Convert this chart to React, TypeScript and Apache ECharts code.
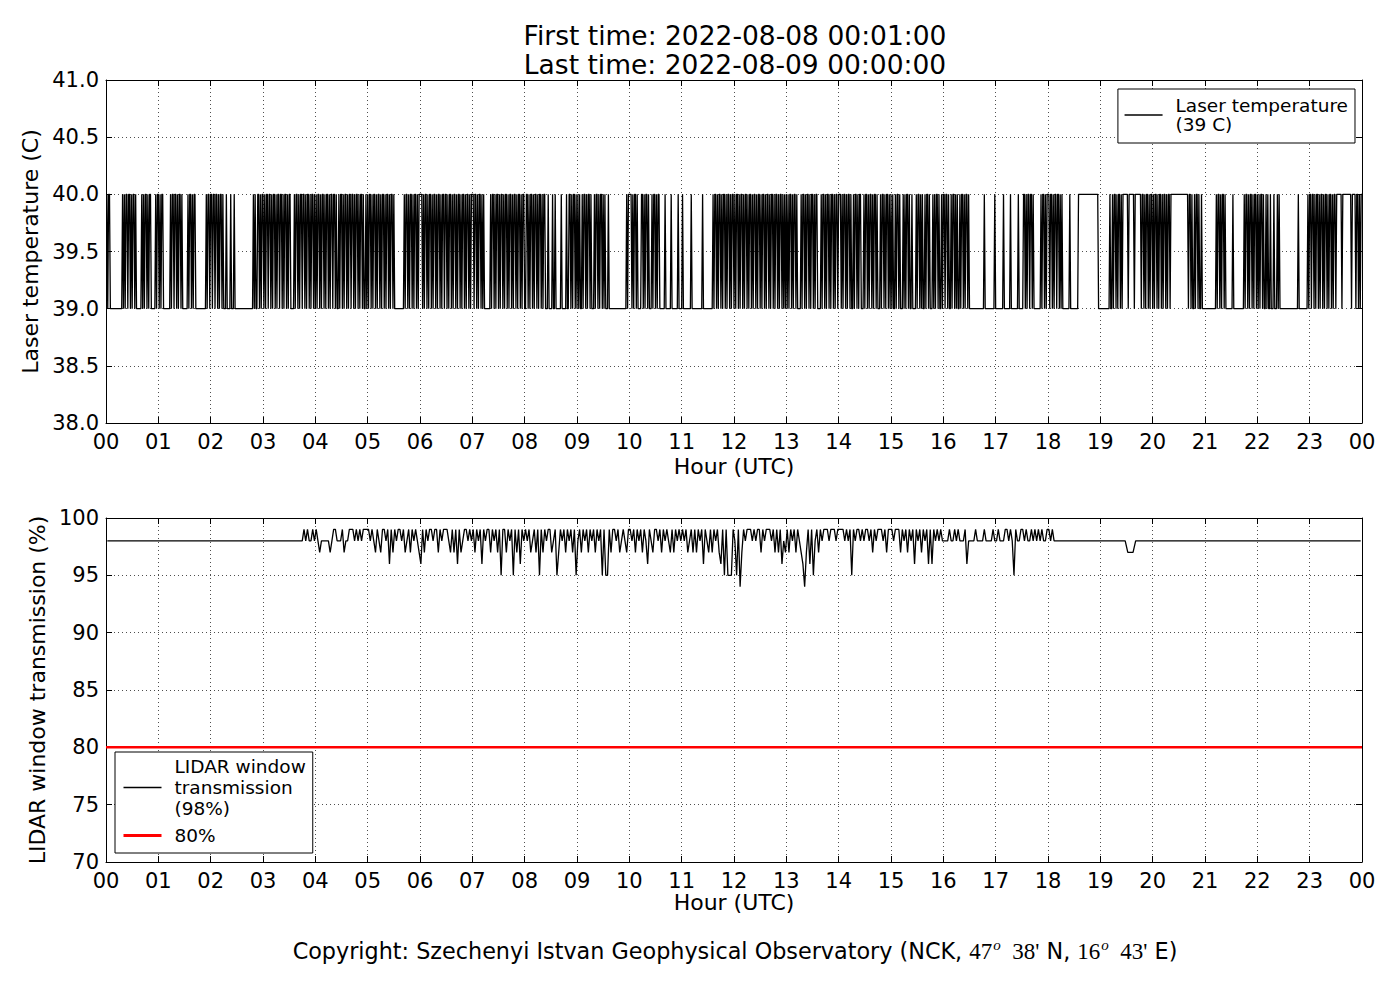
import React, { useEffect, useRef } from "react";
import * as echarts from "echarts";

const TITLE_FIRST = "First time: 2022-08-08 00:01:00";
const TITLE_LAST = "Last time: 2022-08-09 00:00:00";
const X_NAME = "Hour (UTC)";
const HOUR_LABELS = ["00","01","02","03","04","05","06","07","08","09","10","11","12","13","14","15","16","17","18","19","20","21","22","23","00"];
const LASER_NAME = "Laser temperature\n(39 C)";
const LASER_AXIS_NAME = "Laser temperature (C)";
const TRANS_NAME = "LIDAR window\ntransmission\n(98%)";
const TRANS_AXIS_NAME = "LIDAR window transmission (%)";
const THRESH_NAME = "80%";
const THRESHOLD_VALUE = 80;

// Laser temperature, one char per minute of each hour: "0" = 39 C, "1" = 40 C
const LASER_BASE = 39;
const LASER_HOURS = [
  "101100000000000000101011011010110100000010101101011000001011",
  "010110000000010110110101101000000101101011000000000000101101",
  "101101101011010001000010001000000000000000000000101001101011",
  "010110110101101011011010110101100001011010110110101101011010",
  "101101011010110101101101001011010110101101101011010110100101",
  "011010110101101011010110101101000000000001011010110101101011",
  "110101101011010110101101011011010110101101011010110101101011",
  "101101011010100000001011010110101101011010110101101011010110",
  "011010110101101011010110001000010010000001000001001101011010",
  "101001011010110100010110101101010001000000000000000000001011",
  "110101101000011010110100010110101100000010000001000000010000",
  "100000000010000000000001000000000001011010110101101011010110",
  "101101011010110101101011010110101101011010110101101011010101",
  "010110101101000010110101101011010110000101101011010110101101",
  "110101101011010010110101100010110101101011010001011010110101",
  "010010110100010101101001000010110101001011010001010110100101",
  "101101001011010100101101011010000000000000000010000000000010",
  "000000001000000010000000010000011010110110100000000101101011",
  "101101011011010100000000100000000011111111111111111111111000",
  "000000000010010110101101011111101111110111111101101011010110",
  "101101011010110101101111111111111111111101101001011010010000",
  "000000000000101101011010000000010000000000001011010110101101",
  "010110100101001000100010100000000000000000000010000000000101",
  "101101011010110101101011010110111111011111111110111101101011",
];

// LIDAR window transmission, samples spread evenly over each hour: digit d = 90 + d %
const TRANS_BASE = 90;
const TRANS_HOURS = [
  "88888888888888888888",
  "88888888888888888888",
  "88888888888888888888",
  "888888888888888888888889898898",
  "987888887899888978899989898999",
  "989879879989697989989789798987",
  "697989989979899987979697899898",
  "979896989979897959979895979698",
  "989789795979899789579897989795",
  "897989798979895955979989789879",
  "989798979869879989798987979898",
  "989789797989698797989769595559",
  "859479899989899798999897979687",
  "979897987647969589798999899989",
  "999898959899898998979899989799",
  "989997989798969897989696989898",
  "888988989888968888988889888898",
  "898889989859889989889898989889",
  "989888888888888888888888888888",
  "88888888887778888888",
  "88888888888888888888",
  "88888888888888888888",
  "88888888888888888888",
  "88888888888888888888",
];

const FONT = "DejaVu Sans";

function expandHours(hours: string[], base: number, offset: number): [number, number][] {
  const out: [number, number][] = [];
  hours.forEach((s, h) => {
    const n = s.length;
    for (let j = 0; j < n; j++) {
      out.push([h * 60 + ((j + offset) * 60) / n, base + Number(s[j])]);
    }
  });
  return out;
}

export default function App() {
  const ref = useRef<HTMLDivElement>(null);
  useEffect(() => {
    if (!ref.current) return;
    const chart = echarts.init(ref.current, undefined, { renderer: "svg" });
    const laserData = expandHours(LASER_HOURS, LASER_BASE, 1);
    const transData = expandHours(TRANS_HOURS, TRANS_BASE, 0.5);
    const threshData: [number, number][] = [
      [0, THRESHOLD_VALUE],
      [1440, THRESHOLD_VALUE],
    ];

    const black = "#000";
    const red = "#ff0000";
    const splitLine = { show: true, lineStyle: { color: "#222", type: [1, 3] as any, width: 0.8 } };
    const axisTick = { show: true, inside: true, length: 6, lineStyle: { color: black, width: 1 } };
    const axisLine = { show: true, onZero: false, lineStyle: { color: black, width: 1 } };
    const labelStyle = { color: black, fontSize: 21, fontFamily: FONT };
    const nameStyle = { color: black, fontSize: 22, fontFamily: FONT };
    const xFmt = (v: number) => HOUR_LABELS[Math.round(v / 60)] ?? "";

    const xBase = (grid: number, gap: number) => ({
      type: "value",
      gridIndex: grid,
      position: "bottom",
      min: 0,
      max: 1440,
      interval: 60,
      axisLine,
      axisTick,
      splitLine,
      axisLabel: { ...labelStyle, formatter: xFmt, margin: 8 },
      name: X_NAME,
      nameLocation: "middle",
      nameGap: gap,
      nameTextStyle: nameStyle,
    });
    const xTop = (grid: number) => ({
      type: "value",
      gridIndex: grid,
      position: "top",
      min: 0,
      max: 1440,
      interval: 60,
      axisLine,
      axisTick,
      splitLine: { show: false },
      axisLabel: { show: false },
    });
    const yRight = (grid: number, min: number, max: number, interval: number) => ({
      type: "value",
      gridIndex: grid,
      position: "right",
      min,
      max,
      interval,
      axisLine,
      axisTick,
      splitLine: { show: false },
      axisLabel: { show: false },
    });

    const legendCommon = {
      orient: "vertical",
      itemWidth: 38,
      itemHeight: 14,
      borderColor: black,
      borderWidth: 1,
      borderRadius: 0,
      backgroundColor: "#fff",
      itemStyle: { opacity: 0, borderWidth: 0 },
    };

    const option: any = {
      animation: false,
      backgroundColor: "#fff",
      textStyle: { fontFamily: FONT },
      grid: [
        { left: 106, top: 80, width: 1256, height: 343, containLabel: false },
        { left: 106, top: 518, width: 1256, height: 344, containLabel: false },
      ],
      xAxis: [xBase(0, 32), xBase(1, 29), xTop(0), xTop(1)],
      yAxis: [
        {
          type: "value",
          gridIndex: 0,
          position: "left",
          min: 38,
          max: 41,
          interval: 0.5,
          axisLine,
          axisTick,
          splitLine,
          axisLabel: { ...labelStyle, margin: 7, formatter: (v: number) => v.toFixed(1) },
          name: LASER_AXIS_NAME,
          nameLocation: "middle",
          nameGap: 56,
          nameTextStyle: nameStyle,
        },
        {
          type: "value",
          gridIndex: 1,
          position: "left",
          min: 70,
          max: 100,
          interval: 5,
          axisLine,
          axisTick,
          splitLine,
          axisLabel: { ...labelStyle, margin: 7 },
          name: TRANS_AXIS_NAME,
          nameLocation: "middle",
          nameGap: 47,
          nameTextStyle: nameStyle,
        },
        yRight(0, 38, 41, 0.5),
        yRight(1, 70, 100, 5),
      ],
      legend: [
        {
          ...legendCommon,
          data: [{ name: LASER_NAME, lineStyle: { color: black, width: 1.3 } }],
          right: 45,
          top: 89,
          padding: [7, 7, 9, 6],
          textStyle: { color: black, fontSize: 18.5, lineHeight: 19, fontFamily: FONT, padding: [0, 0, 0, 8] },
        },
        {
          ...legendCommon,
          data: [
            { name: TRANS_NAME, lineStyle: { color: black, width: 1.3 } },
            { name: THRESH_NAME, lineStyle: { color: red, width: 3 } },
          ],
          left: 115,
          top: 752,
          itemGap: 6,
          padding: [4, 7, 7, 7],
          textStyle: { color: black, fontSize: 18.5, lineHeight: 21, fontFamily: FONT, padding: [0, 0, 0, 8] },
        },
      ],
      series: [
        {
          name: LASER_NAME,
          type: "line",
          xAxisIndex: 0,
          yAxisIndex: 0,
          data: laserData,
          symbol: "none",
          lineStyle: { color: black, width: 1.3 },
          itemStyle: { color: black },
          z: 3,
        },
        {
          name: TRANS_NAME,
          type: "line",
          xAxisIndex: 1,
          yAxisIndex: 1,
          data: transData,
          symbol: "none",
          lineStyle: { color: black, width: 1.3 },
          itemStyle: { color: black },
          z: 3,
        },
        {
          name: THRESH_NAME,
          type: "line",
          xAxisIndex: 1,
          yAxisIndex: 1,
          data: threshData,
          symbol: "none",
          lineStyle: { color: red, width: 2.5 },
          itemStyle: { color: red },
          z: 4,
        },
      ],
      graphic: [
        {
          type: "text",
          x: 735,
          y: 35,
          style: { text: TITLE_FIRST, fontSize: 26.5, fontFamily: FONT, fill: black, align: "center", verticalAlign: "middle" },
        },
        {
          type: "text",
          x: 735,
          y: 64,
          style: { text: TITLE_LAST, fontSize: 26.5, fontFamily: FONT, fill: black, align: "center", verticalAlign: "middle" },
        },
        {
          type: "text",
          x: 735,
          y: 951,
          style: {
            text:
              "Copyright: Szechenyi Istvan Geophysical Observatory (NCK, {m|47}{s|o}{m|  38'} N, {m|16}{s|o}{m|  43'} E)",
            fontSize: 22.3,
            fontFamily: FONT,
            fill: black,
            align: "center",
            verticalAlign: "middle",
            rich: {
              m: { fontSize: 23, fontFamily: "Liberation Serif", fill: black },
              s: { fontSize: 15, fontFamily: "Liberation Serif", fontStyle: "italic", fill: black, padding: [0, 0, 12, 1] },
            },
          },
        },
      ],
    };
    chart.setOption(option);
    return () => chart.dispose();
  }, []);
  return (
    <div
      ref={ref}
      style={{ position: "fixed", left: 0, top: 0, width: 1400, height: 1000, background: "#fff" }}
    />
  );
}
